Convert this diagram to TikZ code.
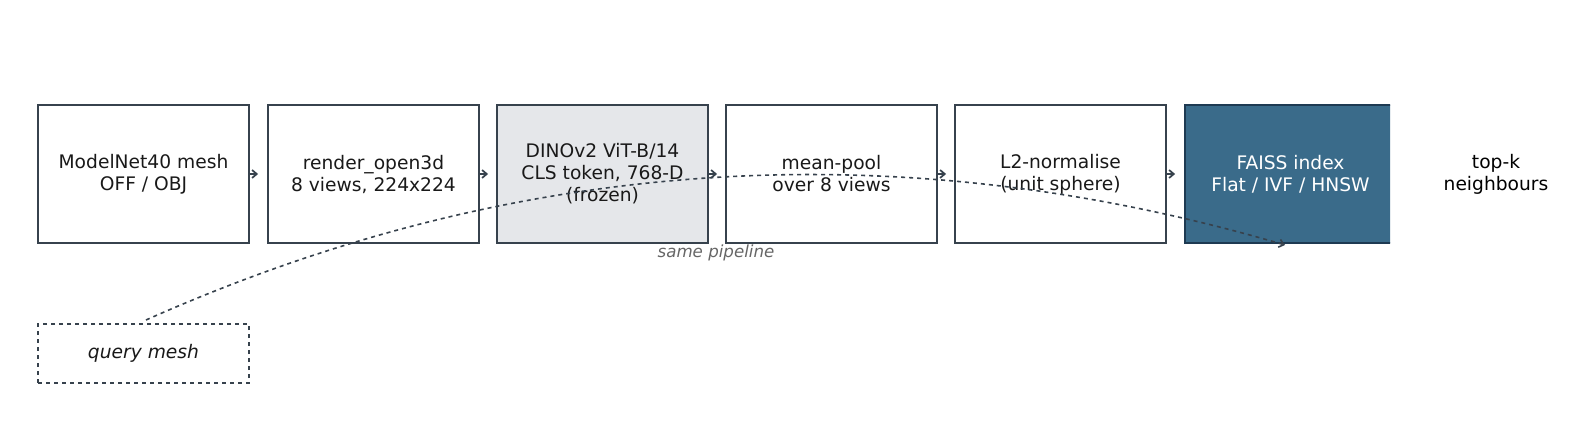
\documentclass[tikz,border=0pt]{standalone}
\usepackage{fontspec}
\setmainfont{DejaVu Sans}
\usetikzlibrary{arrows.meta}
\definecolor{edge}{HTML}{37424D}
\definecolor{faiss}{HTML}{3A6B8A}
\definecolor{faissedge}{HTML}{1E3A52}
\definecolor{lightg}{HTML}{E5E7EA}
\begin{document}
\begin{tikzpicture}[x=0.75pt,y=-0.75pt,
  box/.style={draw=edge,line width=1.6pt,minimum width=211*0.75pt,minimum height=138*0.75pt,inner sep=0pt,align=center,font=\fontsize{14}{16.5}\selectfont,text=black!90},
  arr/.style={-{Straight Barb[length=3.5pt,width=6pt]},edge,line width=1.3pt}]
\useasboundingbox (0,0) rectangle (1590,434);
\node[box] (a) at (143.5,174) {ModelNet40 mesh\\OFF / OBJ};
\node[box] (b) at (373.5,174) {render\_open3d\\8 views, 224x224};
\node[box,fill=lightg] (c) at (602.5,174) {DINOv2 ViT-B/14\\CLS token, 768-D\\(frozen)};
\node[box] (d) at (831.5,174) {mean-pool\\over 8 views};
\node[box] (e) at (1060.5,174) {L2-normalise\\(unit sphere)};
\begin{scope}
\clip (1170,90) rectangle (1390,260);
\node[box,fill=faiss,draw=faissedge,text=white] (f) at (1290.5,174) {FAISS index\\Flat / IVF / HNSW};
\end{scope}
\node[align=center,font=\fontsize{14}{16.5}\selectfont] (g) at (1496,174) {top-k\\neighbours};
\node[box,dashed,minimum height=59*0.75pt,font=\fontsize{14}{16.5}\selectfont\itshape] (q) at (143.5,353.5) {query mesh};
\foreach \u/\v in {a/b,b/c,c/d,d/e,e/f}{
  \draw[arr] ([xshift=-1pt]\u.east) -- ([xshift=6pt]\u.east);
}
\coordinate (qs) at (146,320);
\coordinate (qe) at (1285,245);
\draw[arr,dashed,line width=1.2pt] (qs) .. controls (515,155.7) and (895,130.7) .. (qe);
\node[font=\fontsize{12.5}{14}\selectfont\itshape,text=black!60] (lbl) at (716,253) {same pipeline};
\end{tikzpicture}
\end{document}
